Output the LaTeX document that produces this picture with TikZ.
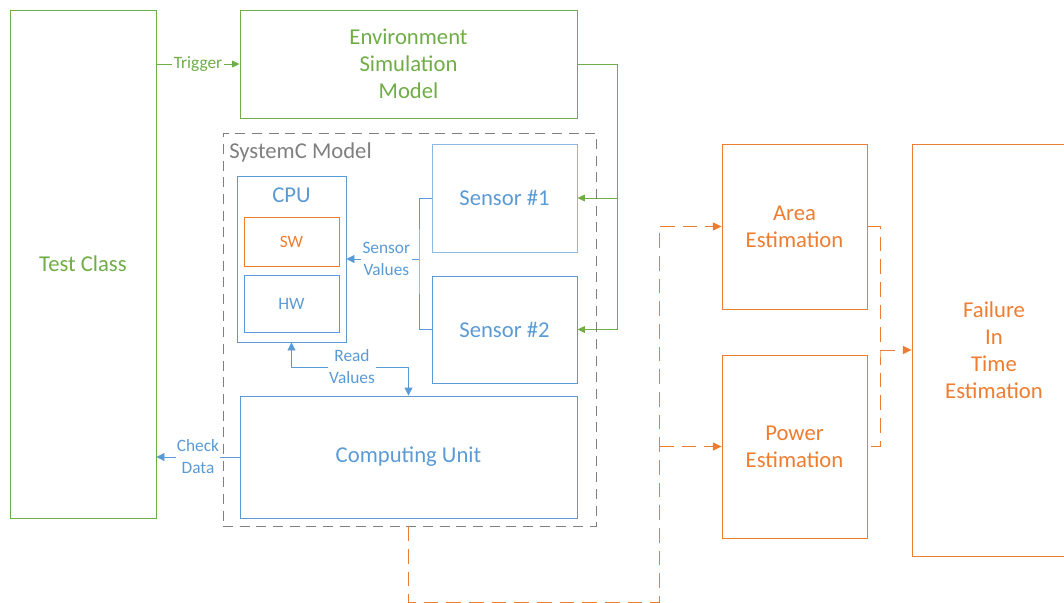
\documentclass[tikz,border=0pt]{standalone}
\usepackage{fontspec}
\setmainfont{Carlito}
\usetikzlibrary{arrows.meta,calc}
\definecolor{cgreen}{HTML}{70AD47}
\definecolor{cblue}{HTML}{5B9BD5}
\definecolor{clblue}{HTML}{8DB8E2}
\definecolor{corange}{HTML}{ED7D31}
\definecolor{cgray}{HTML}{7F7F7F}
\tikzset{
  big/.style={font=\fontsize{17}{20.25}\selectfont, align=center},
  small/.style={font=\fontsize{13}{16.5}\selectfont, align=center},
  box/.style={draw, line width=0.65pt, inner sep=0pt, big},
  gbox/.style={box, draw=cgreen, text=cgreen},
  bbox/.style={box, draw=cblue, text=cblue},
  lbbox/.style={box, draw=clblue, text=cblue},
  obox/.style={box, draw=corange, text=corange},
  gline/.style={draw=cgreen, line width=0.75pt},
  bline/.style={draw=cblue, line width=0.65pt},
  oline/.style={draw=corange, line width=0.75pt, dash pattern=on 11pt off 6pt},
  gtip/.style={-{Triangle[length=5.5pt,width=5pt]}},
  btip/.style={-{Triangle[length=6pt,width=6pt]}},
  otip/.style={-{Triangle[length=6.5pt,width=6pt]}},
  lbl/.style={small, fill=white, inner sep=1pt},
}
\begin{document}
\begin{tikzpicture}[x=0.75pt,y=-0.75pt]
\useasboundingbox (0,0) rectangle (1064,603);
\clip (0,0) rectangle (1064,603);
% boxes
\node[gbox, minimum width=109.5pt, minimum height=381pt] (test) at (83,264) {Test Class};
\node[gbox, minimum width=252.75pt, minimum height=81pt] (env) at (408.5,64) {Environment\\Simulation\\Model};
\node[bbox, minimum width=81.75pt, minimum height=124.5pt] (cpu) at (291.5,259) {};
\node[bbox, draw=none] (cpulbl) at (291.5,195) {CPU};
\node[obox, small, minimum width=71.25pt, minimum height=36.75pt] (sw) at (291.5,241.5) {SW};
\node[bbox, small, minimum width=71.25pt, minimum height=42.75pt] (hw) at (291.5,303.5) {HW};
\node[lbbox, minimum width=108.75pt, minimum height=81pt] (s1) at (504.5,198) {Sensor \#1};
\node[bbox, minimum width=108.75pt, minimum height=80.25pt] (s2) at (504.5,329.5) {Sensor \#2};
\node[bbox, minimum width=252.75pt, minimum height=91.5pt] (cu) at (408.5,457) {Computing Unit};
\node[obox, minimum width=108.75pt, minimum height=123.75pt] (area) at (794.5,226.5) {Area\\Estimation};
\node[obox, minimum width=108.75pt, minimum height=137.25pt] (power) at (794.5,446.5) {Power\\Estimation};
\node[obox, minimum width=123pt, minimum height=309pt] (fit) at (994,350) {Failure\\In\\Time\\Estimation};
% green connectors
\draw[gline, gtip] (test.east |- env.west) -- (env.west)
  node[lbl, text=cgreen, midway] (trig) {Trigger};
\coordinate (g1) at (617,64);
\draw[gline] (env.east) -- (g1);
\draw[gline, gtip] (g1) |- (s1.east);
\draw[gline, gtip] (g1) |- (s2.east);
% sensor values
\coordinate (sv) at (419,259);
\draw[bline] (s1.west) -| (sv) |- (s2.west);
\draw[bline, btip] (sv) -- (cpu.east)
  node[lbl, text=cblue, pos=0.45] (svl) {Sensor\\Values};
% read values
\coordinate (rv1) at (291.5,367);
\coordinate (rv2) at (408.5,367);
\draw[bline, {Triangle[length=6pt,width=6pt]}-{Triangle[length=6pt,width=6pt]}] (cpu.south) -- (rv1) -- (rv2) -- (cu.north);
\node[lbl, text=cblue] (rvl) at (352,367) {Read\\Values};
% check data
\draw[bline, btip] (cu.west) -- (test.east |- cu.west)
  node[lbl, text=cblue, midway] (cdl) {Check\\Data};
% systemc container
\node[draw=cgray, line width=0.65pt, dash pattern=on 7.5pt off 5pt, minimum width=279.75pt, minimum height=294.75pt, inner sep=0pt] (sysc) at (409.5,329.5) {};
\node[big, text=cgray, anchor=west, inner sep=0pt] (syscl) at (229,152) {SystemC Model};
% orange connectors
\coordinate (ob) at (659,602);
\draw[oline, otip] (cu.south |- sysc.south) |- (ob) |- (area.west);
\draw[oline, otip] (ob |- power.west) -- (power.west);
\coordinate (or) at (880,350);
\draw[oline] (area.east) -| (or) |- (power.east);
\draw[oline, otip] (or) -- (fit.west);
\end{tikzpicture}
\end{document}
